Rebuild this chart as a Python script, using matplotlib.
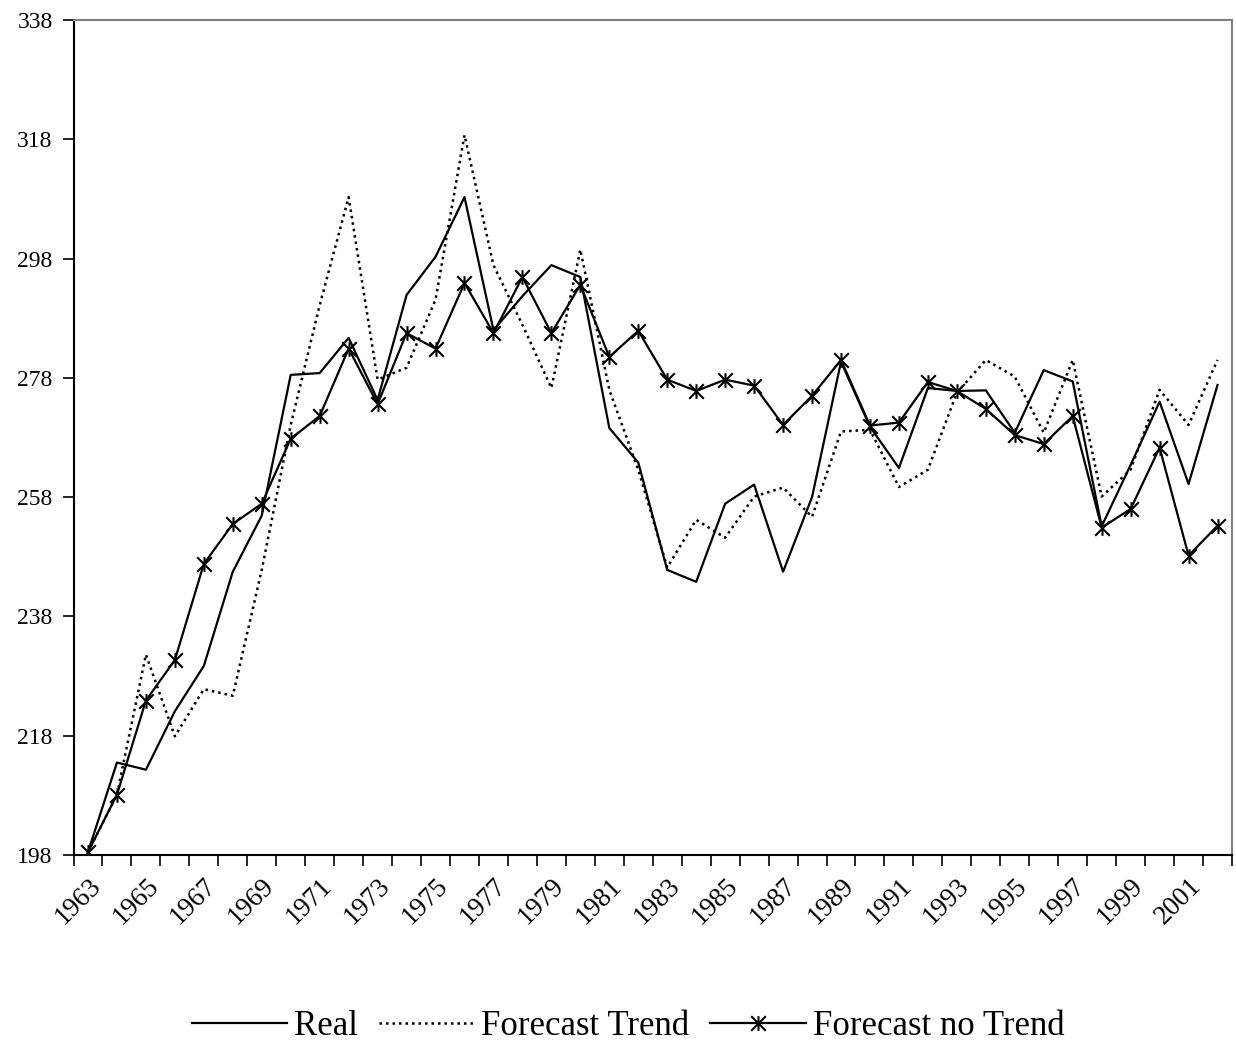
import matplotlib
matplotlib.use("Agg")
import matplotlib.pyplot as plt
from matplotlib.path import Path
import numpy as np

plt.rcParams['font.family'] = ['Liberation Serif', 'DejaVu Serif']

# Data
years = list(range(1963, 2003))
real = [198.5, 213.5, 212.3, 222.1, 229.7, 245.5, 254.9, 278.5, 278.8, 284.7,
        274.3, 291.9, 298.3, 308.3, 286.0, 291.7, 296.9, 294.9, 269.6, 263.8,
        245.8, 243.8, 256.9, 260.1, 245.5, 258.0, 280.7, 269.8, 262.9, 276.3,
        275.8, 275.9, 268.8, 279.3, 277.4, 253.1, 263.4, 274.0, 260.2, 276.8]
forecast_trend = [198.5, 208.1, 231.6, 217.9, 225.8, 224.7, 245.8, 270.1, 290.2, 308.3,
                  277.7, 279.7, 291.1, 318.7, 296.9, 286.9, 276.3, 299.5, 276.0, 262.6,
                  246.2, 254.2, 251.2, 258.1, 259.6, 254.7, 269.0, 269.3, 259.7, 262.6,
                  275.5, 281.0, 278.2, 268.8, 281.0, 258.1, 262.6, 276.0, 270.1, 281.0]
forecast_no_trend = [198.5, 208.1, 223.9, 230.7, 246.8, 253.5, 256.9, 267.8, 271.6, 282.9,
                     273.6, 285.5, 282.9, 293.9, 285.5, 294.9, 285.5, 293.6, 281.5, 285.9,
                     277.7, 275.8, 277.7, 276.7, 270.1, 275.0, 281.0, 270.0, 270.5, 277.3,
                     275.8, 272.8, 268.4, 266.9, 271.6, 252.9, 256.0, 266.3, 248.2, 253.2]
y_ticks = [198, 218, 238, 258, 278, 298, 318, 338]

# Excel style star: X plus vertical bar
star = Path([(0, -1), (0, 1), (-1, -1), (1, 1), (-1, 1), (1, -1)],
            [Path.MOVETO, Path.LINETO, Path.MOVETO, Path.LINETO, Path.MOVETO, Path.LINETO])

fig = plt.figure(figsize=(12.36, 10.45), dpi=100)
ax = fig.add_axes([73.5 / 1236, 1 - 855 / 1045, (1232 - 73.5) / 1236, (855 - 20) / 1045])

x = np.arange(len(years))
ax.plot(x, real, color='black', lw=1.6, label='Real')
ax.plot(x, forecast_trend, color='black', lw=1.8, linestyle=(0, (1, 1.6)),
        label='Forecast Trend')
ax.plot(x, forecast_no_trend, color='black', lw=1.6, marker=star, markersize=10.5,
        markeredgewidth=1.5, label='Forecast no Trend')

ax.set_xlim(-0.5, len(years) - 0.5)
ax.set_ylim(198, 338)
ax.set_yticks(y_ticks)
ax.tick_params(axis='y', direction='out', length=8, width=1.2, labelsize=17, pad=7)

# tick marks between categories, labels every other year
ax.set_xticks(np.arange(-0.5, len(years), 1))
ax.set_xticklabels([])
ax.tick_params(axis='x', which='major', direction='out', length=8, width=1.2)
ax.set_xticks(x[::2], minor=True)
ax.set_xticklabels([str(y) for y in years[::2]], minor=True, rotation=45,
                   ha='right', va='top', rotation_mode='anchor', fontsize=19.5)
ax.tick_params(axis='x', which='minor', length=0, pad=13)

for side in ['top', 'right']:
    ax.spines[side].set_color('#808080')
    ax.spines[side].set_linewidth(1.5)
for side in ['left', 'bottom']:
    ax.spines[side].set_linewidth(1.5)

fig.legend(loc='center', bbox_to_anchor=(0.508, 0.018), ncol=3, frameon=False,
           fontsize=25, handlelength=2.75, handletextpad=0.2, columnspacing=0.6)

fig.savefig('out.png', dpi=100)
